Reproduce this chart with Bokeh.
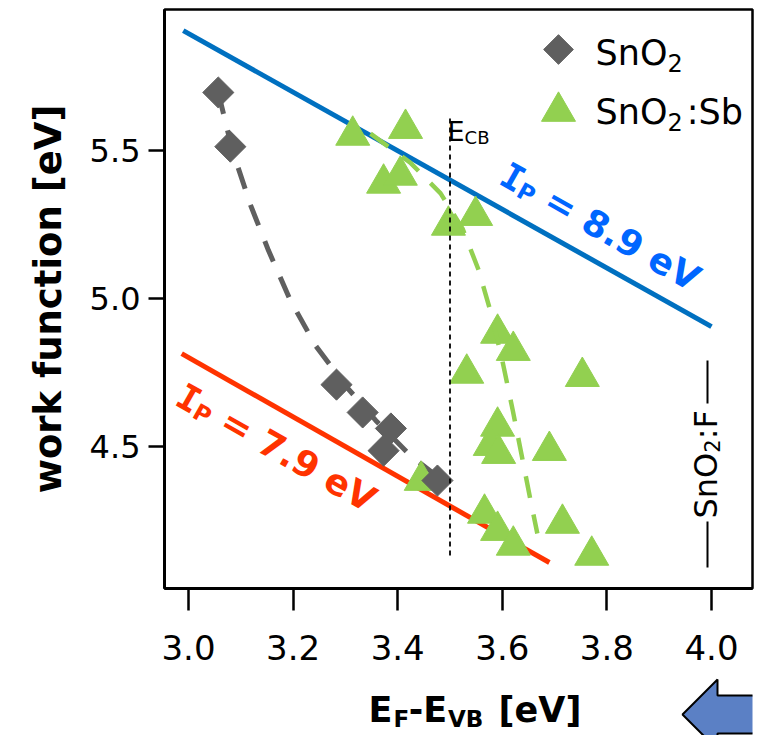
import math
from bokeh.plotting import figure
from bokeh.layouts import column
from bokeh.models import Label, FixedTicker, Range1d, PrintfTickFormatter
from bokeh.embed import file_html
from bokeh.resources import INLINE

# ---------------- data ----------------
sno2_x = [3.057, 3.080, 3.283, 3.333, 3.387, 3.373, 3.476]
sno2_y = [5.696, 5.513, 4.709, 4.615, 4.561, 4.486, 4.385]

sb_x = [3.314, 3.415, 3.373, 3.405, 3.497, 3.549, 3.591, 3.621, 3.532, 3.753,
        3.591, 3.577, 3.593, 3.690, 3.445, 3.566, 3.591, 3.621, 3.715, 3.771]
sb_y = [5.551, 5.574, 5.389, 5.416, 5.247, 5.280, 4.882, 4.824, 4.747, 4.736,
        4.568, 4.503, 4.476, 4.486, 4.385, 4.274, 4.216, 4.166, 4.240, 4.132]

sno2_fit_x = [3.057, 3.084, 3.119, 3.153, 3.195, 3.243, 3.300, 3.358, 3.424, 3.491]
sno2_fit_y = [5.696, 5.500, 5.314, 5.162, 4.993, 4.841, 4.706, 4.588, 4.470, 4.378]

sb_fit_x = [3.348, 3.424, 3.482, 3.524, 3.555, 3.577, 3.600, 3.620, 3.639, 3.654, 3.667]
sb_fit_y = [5.557, 5.459, 5.355, 5.236, 5.095, 4.959, 4.791, 4.622, 4.453, 4.318, 4.206]

ip89_x = [2.990, 4.000]
ip89_y = [5.905, 4.905]
ip79_x = [2.987, 3.690]
ip79_y = [4.814, 4.108]

ecb_x = [3.5, 3.5]
ecb_y = [4.132, 5.608]

x_ticks = [3.0, 3.2, 3.4, 3.6, 3.8, 4.0]
y_ticks = [4.5, 5.0, 5.5]

GRAY = "#5F5F5F"
GREEN = "#92D050"
BLUE_LINE = "#0070C0"
BLUE_TEXT = "#0066FF"
RED = "#FF3300"
ARROW = "#5B80C5"

# ---------------- layout ----------------
W, H = 757, 735
MAIN_H = 675
FL, FR, FT, FB = 164, 752, 9, 588
BASE_FIX = 12   # measured shift of Label baselines


def X(px):
    return 3.0 + (px - 188) / 523.0


def Y(py):
    return 5.5 - (py - 150) / 296.0


p = figure(width=W, height=MAIN_H, x_range=Range1d(X(FL), X(FR)), y_range=Range1d(Y(FB), Y(FT)),
           output_backend="svg", toolbar_location=None, title=None,
           min_border_left=FL, min_border_right=W - FR, min_border_top=FT,
           min_border_bottom=MAIN_H - FB)
p.grid.visible = False
p.background_fill_color = "white"
p.border_fill_color = "white"
p.outline_line_color = "black"
p.outline_line_width = 2.5

for ax in (p.xaxis[0], p.yaxis[0]):
    ax.axis_line_width = 3
    ax.axis_line_color = "black"
    ax.major_tick_line_width = 2.5
    ax.major_tick_line_color = "black"
    ax.major_tick_in = 0
    ax.minor_tick_line_color = None
    ax.major_label_text_color = "black"
    ax.major_label_text_font = "DejaVu Sans"
    ax.formatter = PrintfTickFormatter(format="%.1f")

p.xaxis.ticker = FixedTicker(ticks=x_ticks)
p.yaxis.ticker = FixedTicker(ticks=y_ticks)
p.xaxis.major_tick_out = 22
p.yaxis.major_tick_out = 16
p.xaxis.major_label_standoff = 24
p.yaxis.major_label_standoff = 8
p.xaxis.major_label_text_font_size = "34px"
p.yaxis.major_label_text_font_size = "32px"

p.yaxis.axis_label = "work function [eV]"
p.yaxis.axis_label_text_font = "DejaVu Sans"
p.yaxis.axis_label_text_font_style = "bold"
p.yaxis.axis_label_text_font_size = "37px"
p.yaxis.axis_label_text_color = "black"
p.yaxis.axis_label_standoff = 17

# ---------------- glyphs ----------------
p.line(ip89_x, ip89_y, line_color=BLUE_LINE, line_width=5)
p.line(ip79_x, ip79_y, line_color=RED, line_width=5)
p.line(sno2_fit_x, sno2_fit_y, line_color=GRAY, line_width=5, line_dash="22 17")
p.scatter(sb_x, sb_y, marker="triangle", size=34, fill_color=GREEN, line_color=GREEN)
p.line(sb_fit_x, sb_fit_y, line_color=GREEN, line_width=4.5, line_dash="22 17")
p.scatter(sno2_x, sno2_y, marker="square", angle=math.pi / 4, size=22,
          fill_color=GRAY, line_color=GRAY)
p.line(ecb_x, ecb_y, line_color="black", line_width=1.8, line_dash="5 4")

# legend (manual)
p.scatter([X(558)], [Y(49)], marker="square", angle=math.pi / 4, size=21,
          fill_color=GRAY, line_color=GRAY)
p.scatter([X(558)], [Y(111)], marker="triangle", size=34, fill_color=GREEN, line_color=GREEN)

# SnO2:F marker lines
p.segment(x0=[X(707), X(707)], y0=[Y(360), Y(521)], x1=[X(707), X(707)], y1=[Y(403), Y(567)],
          line_color="black", line_width=2)


def pieces(fig, mx, my, start, theta_deg, parts, color="black", bold=False):
    th = math.radians(theta_deg)
    ux, uy = math.cos(th), math.sin(th)
    nx, ny = -math.sin(th), math.cos(th)
    d = 0.0
    for text, size, font, adv, drop in parts:
        dd = drop - BASE_FIX
        sx = start[0] + d * ux + dd * nx
        sy = start[1] + d * uy + dd * ny
        fig.add_layout(Label(x=mx(sx), y=my(sy), text=text, text_font_size=f"{size}px",
                             text_color=color, text_font=font,
                             text_font_style="bold" if bold else "normal",
                             angle=-th, text_align="left", text_baseline="alphabetic"))
        d += adv


# legend texts
pieces(p, X, Y, (595, 64), 0, [("SnO", 35, "DejaVu Sans", 2.056 * 35, 0),
                               ("2", 24, "DejaVu Sans", 0.636 * 24 + 4, 10)])
pieces(p, X, Y, (595, 123), 0, [("SnO", 35, "DejaVu Sans", 2.056 * 35, 0),
                                ("2", 24, "DejaVu Sans", 0.636 * 24 + 4, 10),
                                (":Sb", 35, "DejaVu Sans", 0, 0)])

# E_CB
pieces(p, X, Y, (447, 143), 0, [("E", 27, "DejaVu Sans", 0.632 * 27, 0),
                                ("CB", 18, "DejaVu Sans", 0, 6)])

# SnO2:F vertical
pieces(p, X, Y, (717, 518), -90, [("SnO", 32, "DejaVu Sans", 2.056 * 32, 0),
                                  ("2", 21, "DejaVu Sans", 0.636 * 21, 6),
                                  (":F", 32, "DejaVu Sans", 0, 0)])

# I_P labels
ang = 29.4
pieces(p, X, Y, (497, 182), ang, [("I", 36, "DejaVu Sans Mono", 0.602 * 36, 0),
                                  ("P", 23, "DejaVu Sans", 0.733 * 23 + 0.348 * 36, 7),
                                  ("= 8.9 eV", 36, "DejaVu Sans", 0, 0)],
       color=BLUE_TEXT, bold=True)
pieces(p, X, Y, (173, 403), ang, [("I", 36, "DejaVu Sans Mono", 0.602 * 36, 0),
                                  ("P", 23, "DejaVu Sans", 0.733 * 23 + 0.348 * 36, 7),
                                  ("= 7.9 eV", 36, "DejaVu Sans", 0, 0)],
       color=RED, bold=True)

# ---------------- bottom strip: x-axis title and arrow ----------------
# the column aligns this strip's frame with the main frame (px FL..FR)
p2 = figure(width=W, height=H - MAIN_H, x_range=Range1d(FL, FR), y_range=Range1d(H, MAIN_H),
            output_backend="svg", toolbar_location=None, title=None,
            x_axis_location=None, y_axis_location=None,
            min_border_left=FL, min_border_right=W - FR, min_border_top=0, min_border_bottom=0,
            outline_line_color=None)
p2.grid.visible = False
p2.background_fill_color = "white"
p2.border_fill_color = "white"


def ident(v):
    return v


pieces(p2, ident, ident, (368, 721), 0, [("E", 35, "DejaVu Sans", 0.683 * 35 + 1, 0),
                                         ("F", 23, "DejaVu Sans", 0.575 * 23 + 2, 9),
                                         ("-E", 35, "DejaVu Sans", (0.415 + 0.683) * 35 + 1, 0),
                                         ("VB", 23, "DejaVu Sans",
                                          (0.774 + 0.762) * 23 + 0.348 * 35 + 3, 9),
                                         ("[eV]", 35, "DejaVu Sans", 0, 0)], bold=True)

arrow_px = [682, 717, 717, 800, 800, 717, 717]
arrow_py = [714, 679, 695, 695, 733, 733, 749]
p2.patch(arrow_px, arrow_py, fill_color=ARROW, line_color="black", line_width=2)

layout = column(p, p2, spacing=0)
open("out.html", "w").write(file_html(layout, INLINE))
